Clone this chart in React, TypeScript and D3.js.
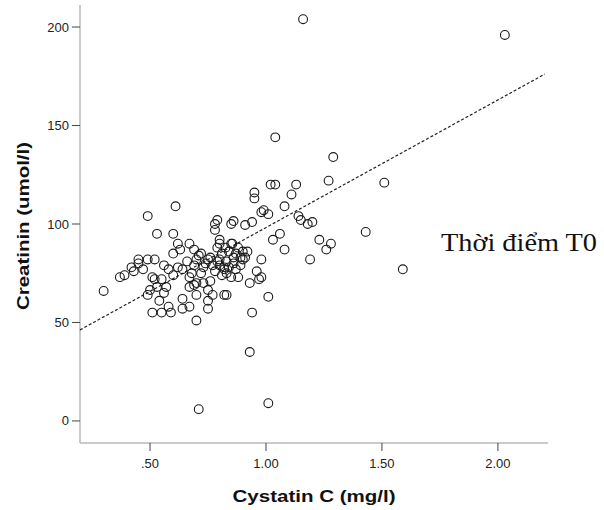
import React from "react";
import * as d3 from "d3";

// Cystatin C (mg/l) vs Creatinin (umol/l) at time point T0
const cystatin = [
  1.16, 2.03, 1.04, 1.29, 1.27, 1.51, 1.13, 1.02, 1.04, 0.95, 0.95, 1.11, 1.08, 1.14, 0.99,
  1.43, 1.59, 1.06, 1.08, 1.19, 1.23, 1.28, 1.26, 1.15, 1.18, 1.20, 0.93, 1.01, 0.71, 0.94,
  1.01, 0.97, 0.93, 0.98, 0.83, 0.75, 0.91, 0.78, 0.85, 0.91, 0.94, 0.98, 1.01, 0.61, 0.49,
  0.53, 0.60, 0.62, 0.63, 0.79, 0.78, 0.86, 0.49, 0.45, 0.42, 0.39, 0.37, 0.52, 0.30, 0.51,
  0.53, 0.50, 0.49, 0.55, 0.58, 0.60, 0.62, 0.67, 0.69, 0.64, 0.67, 0.70, 0.73, 0.76, 0.79,
  0.80, 0.82, 0.86, 0.89, 0.85, 0.88, 0.90, 0.54, 0.56, 0.58, 0.51, 0.55, 0.59, 0.64, 0.67,
  0.67, 0.70, 0.75, 0.75, 0.70, 0.82, 0.98, 0.72, 0.74, 0.77, 0.81, 0.83, 0.84, 0.78, 0.72,
  0.76, 0.81, 0.87, 0.69, 0.66, 0.80, 0.85, 0.88, 0.69, 0.73, 0.64, 0.77, 0.60, 0.56, 0.47,
  0.80, 0.855, 0.825, 0.43, 0.45, 0.52, 0.57, 0.68, 0.70, 0.71, 0.80, 0.84, 0.92, 0.96, 1.03,
  0.79, 0.82, 0.86, 0.89, 0.75, 0.83, 0.87, 0.90,
];

const creatinin = [
  204, 196, 144, 134, 122, 121, 120, 120, 120, 116, 113, 115, 109, 104, 107,
  96, 77, 95, 87, 82, 92, 90, 87, 102, 100, 101, 35, 9, 6, 55,
  63, 72, 70, 82, 64, 57, 83, 100, 100, 99.5, 101, 106, 105, 109, 104,
  95, 95, 90, 87, 102, 97, 101.5, 82, 82, 78, 74, 73, 82, 66, 73,
  68, 66.5, 64, 72, 77, 85, 78, 90, 87, 77, 73, 82, 78, 83, 88,
  82, 77, 80, 83, 73, 73, 82, 61, 65, 58, 55, 55, 55, 57, 58,
  68, 64, 66.5, 61, 51, 64, 73, 85, 80, 79, 85, 81, 86, 76, 75,
  71, 74, 77, 79, 81, 92, 90, 88, 69, 70, 62, 64, 74, 79, 77,
  90, 90, 88, 76, 80, 72, 68, 75, 70, 84, 79, 78, 86, 76, 92,
  81, 78, 83, 79, 82, 75, 85, 86,
];

// Fitted linear trend: creatinin = intercept + slope * cystatin
const fitIntercept = 33.4;
const fitSlope = 64.8;
const fitRange = [0.198, 2.202];

const xTicks = [0.5, 1.0, 1.5, 2.0];
const xTickLabels = [".50", "1.00", "1.50", "2.00"];
const yTicks = [0, 50, 100, 150, 200];
const yTickLabels = ["0", "50", "100", "150", "200"];

const W = 604;
const H = 510;

export default function App() {
  const x = d3.scaleLinear().domain([0.198, 2.216]).range([80, 548]);
  const y = d3.scaleLinear().domain([-11.2, 211.2]).range([443, 5]);

  const points = cystatin.map((c, i) => [c, creatinin[i]] as [number, number]);

  const fitLine = d3
    .line<number>()
    .x((d) => x(d))
    .y((d) => y(fitIntercept + fitSlope * d));

  const axisColor = "#b8b8b8";
  const sans = "'Liberation Sans', Arial, sans-serif";

  return (
    <svg
      width={W}
      height={H}
      viewBox={`0 0 ${W} ${H}`}
      style={{ position: "absolute", left: 0, top: 0, background: "#fff" }}
    >
      <rect x={0} y={0} width={W} height={H} fill="#fff" />

      {/* axes */}
      <line x1={x.range()[0]} x2={x.range()[0]} y1={y.range()[1]} y2={y.range()[0]} stroke={axisColor} strokeWidth={1.5} />
      <line x1={x.range()[0]} x2={x.range()[1]} y1={y.range()[0]} y2={y.range()[0]} stroke={axisColor} strokeWidth={1.5} />

      {/* y ticks */}
      {yTicks.map((t, i) => (
        <g key={"yt" + t}>
          <line x1={72} x2={80} y1={y(t)} y2={y(t)} stroke="#444" strokeWidth={1} />
          <text
            x={69}
            y={y(t)}
            dy="0.35em"
            textAnchor="end"
            fontFamily={sans}
            fontSize={13}
            fill="#222"
          >
            {yTickLabels[i]}
          </text>
        </g>
      ))}

      {/* x ticks */}
      {xTicks.map((t, i) => (
        <g key={"xt" + t}>
          <line x1={x(t)} x2={x(t)} y1={443} y2={451} stroke="#444" strokeWidth={1} />
          <text
            x={x(t)}
            y={468}
            textAnchor="middle"
            fontFamily={sans}
            fontSize={13}
            fill="#222"
          >
            {xTickLabels[i]}
          </text>
        </g>
      ))}

      {/* axis titles */}
      <text
        x={314}
        y={502}
        textAnchor="middle"
        fontFamily={sans}
        fontWeight="bold"
        fontSize={17}
        textLength={163}
        lengthAdjust="spacingAndGlyphs"
        fill="#111"
      >
        Cystatin C (mg/l)
      </text>
      <text
        transform={`translate(29,226) rotate(-90)`}
        textAnchor="middle"
        fontFamily={sans}
        fontWeight="bold"
        fontSize={17}
        textLength={168}
        lengthAdjust="spacingAndGlyphs"
        fill="#111"
      >
        Creatinin (umol/l)
      </text>

      {/* fitted line */}
      <path
        d={fitLine(fitRange) || ""}
        fill="none"
        stroke="#222"
        strokeWidth={1.2}
        strokeDasharray="3,2"
      />

      {/* observations */}
      {points.map(([cx, cy], i) => (
        <circle
          key={i}
          cx={x(cx)}
          cy={y(cy)}
          r={4.4}
          fill="none"
          stroke="#1a1a1a"
          strokeWidth={1.1}
        />
      ))}

      {/* annotation */}
      <text
        x={441}
        y={251}
        fontFamily="'Liberation Serif', 'Times New Roman', serif"
        fontSize={25}
        textLength={156}
        lengthAdjust="spacingAndGlyphs"
        fill="#111"
      >
        Thời điểm T0
      </text>
    </svg>
  );
}
